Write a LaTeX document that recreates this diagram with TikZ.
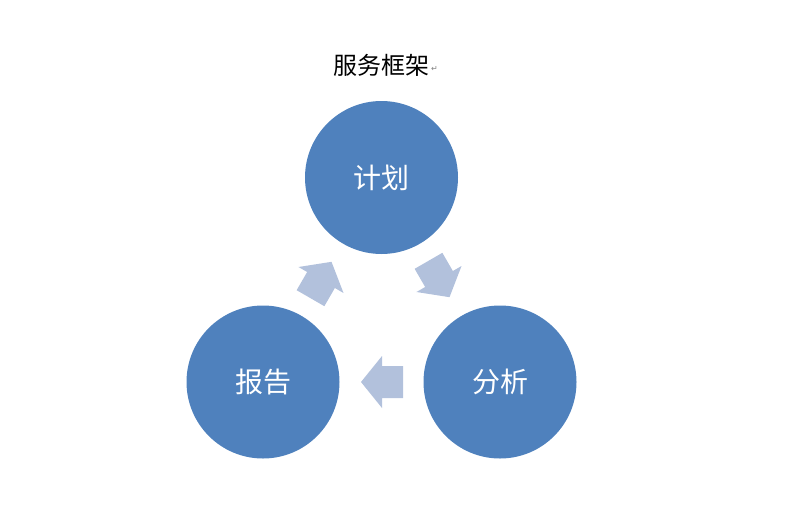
\documentclass[tikz,border=0pt]{standalone}
\usepackage{fontspec}
\usepackage{xcolor}
\newfontfamily\cjk{Noto Sans CJK SC}
\newfontfamily\symfont{DejaVu Sans}
\definecolor{stepblue}{RGB}{79,129,189}
\definecolor{arrowblue}{RGB}{178,193,220}

\begin{document}
\begin{tikzpicture}[x=0.75pt,y=0.75pt,yscale=-1,xscale=1,
    stepcircle/.style={circle,fill=stepblue,draw=none,minimum size=153*0.75pt,inner sep=0pt,text=white,font=\cjk\fontsize{21}{21}\selectfont},
    arrowfill/.style={fill=arrowblue,draw=none}]
            \useasboundingbox (0,0) rectangle (789,504);
            % title
            \node (title) at (381,65) [inner sep=0.75pt] {\cjk\fontsize{18}{18}\selectfont 服务框架};
            \node (mark) at (title.east) [anchor=west,inner sep=0.5pt,yshift=-3pt] {\symfont\fontsize{6}{6}\selectfont\color{gray}↵};
            % steps
            \node (plan) at (381.5,177.5) [stepcircle] {计划};
            \node (report) at (263,382) [stepcircle] {报告};
            \node (analyse) at (500,382) [stepcircle] {分析};
            % arrows between the steps
            \coordinate (a1) at (439,279);
            \coordinate (a2) at (382,382);
            \coordinate (a3) at (321,280);
            \fill [arrowfill,shift={(a1)},rotate=60] (21,0) -- (0,26) -- (0,16) -- (-21,16) -- (-21,-16) -- (0,-16) -- (0,-26) -- cycle;
            \fill [arrowfill,shift={(a2)},rotate=180] (21,0) -- (0,26) -- (0,16) -- (-21,16) -- (-21,-16) -- (0,-16) -- (0,-26) -- cycle;
            \fill [arrowfill,shift={(a3)},rotate=-60] (21,0) -- (0,26) -- (0,16) -- (-21,16) -- (-21,-16) -- (0,-16) -- (0,-26) -- cycle;
        \end{tikzpicture}
\end{document}
